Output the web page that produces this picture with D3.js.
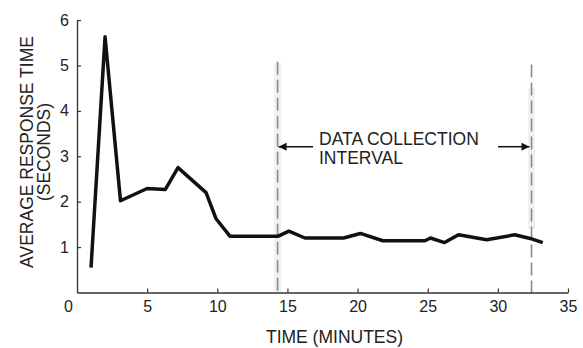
<!DOCTYPE html>
<html>
<head>
<meta charset="utf-8">
<script src="https://cdn.jsdelivr.net/npm/d3@7"></script>
<style>
  body { margin: 0; background: #fff; }
  svg { display: block; font-family: "Liberation Sans", Arial, sans-serif; }
</style>
</head>
<body>
<script>
// response time samples (minutes, seconds)
var minutes = [1.0, 2.0, 3.1, 5.0, 6.3, 7.2, 9.2, 9.9, 10.9, 14.35, 15.1, 16.25, 19.0, 20.2, 21.8, 24.8, 25.2, 26.2, 27.2, 29.2, 31.2, 32.3, 33.2]
var seconds = [0.55, 5.63, 2.02, 2.29, 2.27, 2.75, 2.2, 1.63, 1.24, 1.24, 1.35, 1.2, 1.2, 1.3, 1.14, 1.14, 1.2, 1.1, 1.27, 1.16, 1.27, 1.19, 1.1]
var xTicks = [0, 5, 10, 15, 20, 25, 30, 35]
var yTicks = [1, 2, 3, 4, 5, 6]
var interval = [14.3, 32.4]
var intervalLabel = ['DATA COLLECTION', 'INTERVAL']

var W = 583, H = 348
var svg = d3.select('body').append('svg')
  .attr('width', W)
  .attr('height', H)

var x = d3.scaleLinear().domain([0, 35]).range([77, 568])
  , y = d3.scaleLinear().domain([0, 6]).range([292.5, 20])

// light halo behind the dashed markers
svg.selectAll('rect.halo').data(interval).enter()
  .append('rect')
  .attr('class', 'halo')
  .attr('x', function(d) { return x(d) - 3.5 })
  .attr('y', function(d, i) { return i ? y(4.5) : y(5.05) })
  .attr('width', 7)
  .attr('height', function(d, i) { return i ? y(1.4) - y(4.5) : y(0) - y(5.05) })
  .attr('fill', '#f1f1f1')

svg.selectAll('line.marker').data(interval).enter()
  .append('line')
  .attr('class', 'marker')
  .attr('x1', function(d) { return x(d) })
  .attr('x2', function(d) { return x(d) })
  .attr('y1', function(d, i) { return i ? y(5.02) : y(5.08) })
  .attr('y2', y(0) + 1)
  .attr('stroke', '#8a8a8a')
  .attr('stroke-width', 1.6)
  .attr('stroke-dasharray', '13,5')

// x axis, ticks pointing up
var xAxis = d3.axisBottom(x).tickValues(xTicks).tickSizeInner(-4).tickSizeOuter(0).tickPadding(8)
var gx = svg.append('g').attr('transform', 'translate(0,' + y(0) + ')').call(xAxis)
gx.select('.domain').attr('stroke', '#333').attr('stroke-width', 1.3)
gx.selectAll('.tick line').attr('stroke', '#333').attr('stroke-width', 1.2)
gx.selectAll('.tick text').attr('font-size', 16).attr('fill', '#222')
  .attr('font-family', '"Liberation Sans", Arial, sans-serif')
  .attr('dx', function(d) { return d === 0 ? -9 : 0 })
gx.selectAll('.tick').filter(function(d) { return d === 0 }).select('line').remove()

// y axis, ticks pointing right
var yAxis = d3.axisLeft(y).tickValues(yTicks).tickFormat(d3.format('d'))
  .tickSizeInner(-4).tickSizeOuter(0).tickPadding(8)
var gy = svg.append('g').attr('transform', 'translate(' + x(0) + ',0)').call(yAxis)
gy.select('.domain').attr('stroke', '#333').attr('stroke-width', 1.3)
gy.selectAll('.tick line').attr('stroke', '#333').attr('stroke-width', 1.2)
gy.selectAll('.tick text').attr('font-size', 16).attr('fill', '#222')
  .attr('font-family', '"Liberation Sans", Arial, sans-serif')

// response time line
var line = d3.line()
  .x(function(d, i) { return x(minutes[i]) })
  .y(function(d) { return y(d) })
svg.append('path')
  .datum(seconds)
  .attr('d', line)
  .attr('fill', 'none')
  .attr('stroke', '#111')
  .attr('stroke-width', 3.5)
  .attr('stroke-linejoin', 'round')

// arrows to the interval markers
var arrowY = y(3.21)
svg.append('defs').append('marker')
  .attr('id', 'head')
  .attr('viewBox', '0 0 10 10')
  .attr('refX', 10).attr('refY', 5)
  .attr('markerWidth', 10).attr('markerHeight', 8)
  .attr('markerUnits', 'userSpaceOnUse')
  .attr('orient', 'auto')
  .append('path').attr('d', 'M0,0L10,5L0,10Z').attr('fill', '#111')

svg.append('line')
  .attr('x1', 313).attr('x2', x(interval[0]) + 1)
  .attr('y1', arrowY).attr('y2', arrowY)
  .attr('stroke', '#111').attr('stroke-width', 1.5)
  .attr('marker-end', 'url(#head)')
svg.append('line')
  .attr('x1', 498).attr('x2', x(interval[1]) - 2)
  .attr('y1', arrowY).attr('y2', arrowY)
  .attr('stroke', '#111').attr('stroke-width', 1.5)
  .attr('marker-end', 'url(#head)')

svg.selectAll('text.note').data(intervalLabel).enter()
  .append('text')
  .attr('class', 'note')
  .attr('x', 319)
  .attr('y', function(d, i) { return 145 + i * 18.5 })
  .attr('font-size', 17.5)
  .attr('fill', '#222')
  .text(function(d) { return d })

// axis titles
svg.append('text')
  .attr('x', (x(0) + x(35)) / 2 + 12)
  .attr('y', 343)
  .attr('text-anchor', 'middle')
  .attr('font-size', 17.5)
  .attr('fill', '#222')
  .text('TIME (MINUTES)')

var yt = svg.append('text')
  .attr('transform', 'translate(33,152) rotate(-90)')
  .attr('text-anchor', 'middle')
  .attr('font-size', 17.5)
  .attr('fill', '#222')
yt.append('tspan').attr('x', 0).attr('y', 0).text('AVERAGE RESPONSE TIME')
yt.append('tspan').attr('x', 0).attr('y', 17).text('(SECONDS)')
</script>
</body>
</html>
